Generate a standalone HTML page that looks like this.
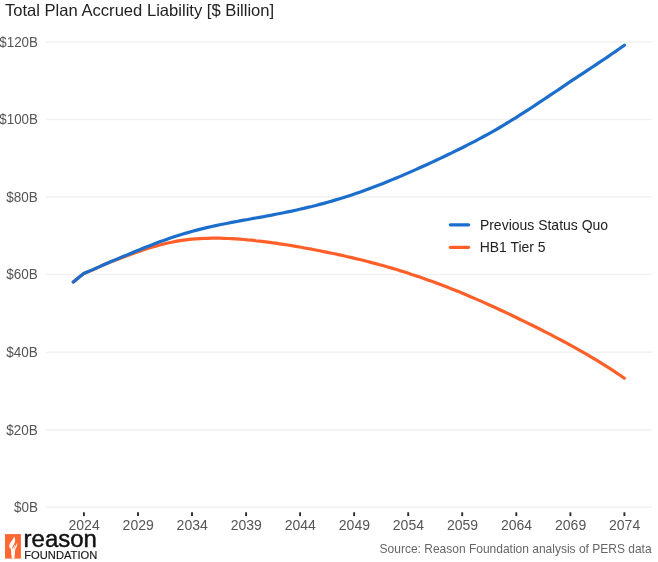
<!DOCTYPE html>
<html><head><meta charset="utf-8"><title>Total Plan Accrued Liability</title>
<style>
html,body{margin:0;padding:0;background:#fff;}
body{width:658px;height:562px;overflow:hidden;font-family:"Liberation Sans", sans-serif;}
svg{display:block;}
text{font-family:"Liberation Sans", sans-serif;}
</style></head><body>
<svg width="658" height="562" viewBox="0 0 658 562">
<rect width="658" height="562" fill="#fff"/>
<text x="4.9" y="15.5" font-size="16.5" fill="#222" textLength="269.3" lengthAdjust="spacingAndGlyphs">Total Plan Accrued Liability [$ Billion]</text>
<line x1="46" x2="652" y1="42.0" y2="42.0" stroke="#f1f1f1" stroke-width="1.5"/>
<text x="-0.7" y="46.8" font-size="14" fill="#555" textLength="38.6" lengthAdjust="spacingAndGlyphs">$120B</text>
<line x1="46" x2="652" y1="119.5" y2="119.5" stroke="#f1f1f1" stroke-width="1.5"/>
<text x="-0.7" y="124.3" font-size="14" fill="#555" textLength="38.6" lengthAdjust="spacingAndGlyphs">$100B</text>
<line x1="46" x2="652" y1="197.1" y2="197.1" stroke="#f1f1f1" stroke-width="1.5"/>
<text x="6.3" y="201.9" font-size="14" fill="#555" textLength="31.6" lengthAdjust="spacingAndGlyphs">$80B</text>
<line x1="46" x2="652" y1="274.6" y2="274.6" stroke="#f1f1f1" stroke-width="1.5"/>
<text x="6.3" y="279.4" font-size="14" fill="#555" textLength="31.6" lengthAdjust="spacingAndGlyphs">$60B</text>
<line x1="46" x2="652" y1="352.2" y2="352.2" stroke="#f1f1f1" stroke-width="1.5"/>
<text x="6.3" y="357.0" font-size="14" fill="#555" textLength="31.6" lengthAdjust="spacingAndGlyphs">$40B</text>
<line x1="46" x2="652" y1="429.8" y2="429.8" stroke="#f1f1f1" stroke-width="1.5"/>
<text x="6.3" y="434.6" font-size="14" fill="#555" textLength="31.6" lengthAdjust="spacingAndGlyphs">$20B</text>
<line x1="46" x2="652" y1="507.3" y2="507.3" stroke="#f1f1f1" stroke-width="1.5"/>
<text x="13.9" y="512.1" font-size="14" fill="#555" textLength="24.0" lengthAdjust="spacingAndGlyphs">$0B</text>
<line x1="83.9" x2="83.9" y1="512.3" y2="516.1" stroke="#2a2a2a" stroke-width="1.9"/>
<text x="68.5" y="529.7" font-size="14" fill="#555" textLength="31.2" lengthAdjust="spacingAndGlyphs">2024</text>
<line x1="138.0" x2="138.0" y1="512.3" y2="516.1" stroke="#2a2a2a" stroke-width="1.9"/>
<text x="122.6" y="529.7" font-size="14" fill="#555" textLength="31.2" lengthAdjust="spacingAndGlyphs">2029</text>
<line x1="192.0" x2="192.0" y1="512.3" y2="516.1" stroke="#2a2a2a" stroke-width="1.9"/>
<text x="176.6" y="529.7" font-size="14" fill="#555" textLength="31.2" lengthAdjust="spacingAndGlyphs">2034</text>
<line x1="246.1" x2="246.1" y1="512.3" y2="516.1" stroke="#2a2a2a" stroke-width="1.9"/>
<text x="230.7" y="529.7" font-size="14" fill="#555" textLength="31.2" lengthAdjust="spacingAndGlyphs">2039</text>
<line x1="300.1" x2="300.1" y1="512.3" y2="516.1" stroke="#2a2a2a" stroke-width="1.9"/>
<text x="284.7" y="529.7" font-size="14" fill="#555" textLength="31.2" lengthAdjust="spacingAndGlyphs">2044</text>
<line x1="354.1" x2="354.1" y1="512.3" y2="516.1" stroke="#2a2a2a" stroke-width="1.9"/>
<text x="338.8" y="529.7" font-size="14" fill="#555" textLength="31.2" lengthAdjust="spacingAndGlyphs">2049</text>
<line x1="408.2" x2="408.2" y1="512.3" y2="516.1" stroke="#2a2a2a" stroke-width="1.9"/>
<text x="392.8" y="529.7" font-size="14" fill="#555" textLength="31.2" lengthAdjust="spacingAndGlyphs">2054</text>
<line x1="462.2" x2="462.2" y1="512.3" y2="516.1" stroke="#2a2a2a" stroke-width="1.9"/>
<text x="446.9" y="529.7" font-size="14" fill="#555" textLength="31.2" lengthAdjust="spacingAndGlyphs">2059</text>
<line x1="516.3" x2="516.3" y1="512.3" y2="516.1" stroke="#2a2a2a" stroke-width="1.9"/>
<text x="500.9" y="529.7" font-size="14" fill="#555" textLength="31.2" lengthAdjust="spacingAndGlyphs">2064</text>
<line x1="570.4" x2="570.4" y1="512.3" y2="516.1" stroke="#2a2a2a" stroke-width="1.9"/>
<text x="555.0" y="529.7" font-size="14" fill="#555" textLength="31.2" lengthAdjust="spacingAndGlyphs">2069</text>
<line x1="624.4" x2="624.4" y1="512.3" y2="516.1" stroke="#2a2a2a" stroke-width="1.9"/>
<text x="609.0" y="529.7" font-size="14" fill="#555" textLength="31.2" lengthAdjust="spacingAndGlyphs">2074</text>
<path d="M73.3 282.0L83.7 273.5L87.7 272.1L91.7 270.4L95.7 268.5L99.7 266.6L103.7 264.8L107.7 263.1L111.7 261.5L115.7 260.0L119.7 258.5L123.7 257.0L127.7 255.5L131.7 254.1L135.7 252.6L139.7 251.2L143.7 249.8L147.7 248.5L151.7 247.3L155.7 246.1L159.7 245.0L163.7 244.0L167.7 243.0L171.7 242.2L175.7 241.4L179.7 240.7L183.7 240.2L187.7 239.7L191.7 239.2L195.7 238.9L199.7 238.6L203.7 238.4L207.7 238.3L211.7 238.2L215.7 238.2L219.7 238.2L223.7 238.3L227.7 238.5L231.7 238.7L235.7 238.9L239.7 239.2L243.7 239.5L247.7 239.9L251.7 240.2L255.7 240.7L259.7 241.1L263.7 241.6L267.7 242.1L271.7 242.7L275.7 243.2L279.7 243.8L283.7 244.4L287.7 245.0L291.7 245.7L295.7 246.4L299.7 247.0L303.7 247.8L307.7 248.5L311.7 249.2L315.7 250.0L319.7 250.8L323.7 251.6L327.7 252.4L331.7 253.2L335.7 254.0L339.7 254.9L343.7 255.8L347.7 256.7L351.7 257.6L355.7 258.6L359.7 259.5L363.7 260.5L367.7 261.5L371.7 262.6L375.7 263.6L379.7 264.7L383.7 265.8L387.7 267.0L391.7 268.1L395.7 269.3L399.7 270.6L403.7 271.8L407.7 273.1L411.7 274.4L415.7 275.7L419.7 277.1L423.7 278.5L427.7 279.9L431.7 281.3L435.7 282.8L439.7 284.3L443.7 285.8L447.7 287.3L451.7 288.9L455.7 290.5L459.7 292.1L463.7 293.8L467.7 295.5L471.7 297.2L475.7 298.9L479.7 300.6L483.7 302.4L487.7 304.2L491.7 306.0L495.7 307.8L499.7 309.7L503.7 311.5L507.7 313.4L511.7 315.3L515.7 317.2L519.7 319.2L523.7 321.1L527.7 323.1L531.7 325.0L535.7 327.0L539.7 329.0L543.7 331.1L547.7 333.1L551.7 335.2L555.7 337.3L559.7 339.4L563.7 341.5L567.7 343.7L571.7 345.9L575.7 348.1L579.7 350.3L583.7 352.6L587.7 354.9L591.7 357.3L595.7 359.7L599.7 362.1L603.7 364.6L607.7 367.1L611.7 369.7L615.7 372.3L619.7 375.0L623.7 377.8L624.3 378.2" fill="none" stroke="#ff6029" stroke-width="3.2" stroke-linecap="round" stroke-linejoin="round"/>
<path d="M73.3 282.0L83.7 273.5L87.7 271.8L91.7 270.1L95.7 268.4L99.7 266.6L103.7 264.8L107.7 263.0L111.7 261.3L115.7 259.6L119.7 257.9L123.7 256.3L127.7 254.6L131.7 253.0L135.7 251.3L139.7 249.7L143.7 248.0L147.7 246.4L151.7 244.9L155.7 243.3L159.7 241.8L163.7 240.4L167.7 238.9L171.7 237.6L175.7 236.3L179.7 235.0L183.7 233.8L187.7 232.6L191.7 231.5L195.7 230.4L199.7 229.4L203.7 228.4L207.7 227.4L211.7 226.5L215.7 225.6L219.7 224.8L223.7 224.0L227.7 223.2L231.7 222.4L235.7 221.7L239.7 220.9L243.7 220.2L247.7 219.5L251.7 218.7L255.7 218.0L259.7 217.3L263.7 216.6L267.7 215.8L271.7 215.1L275.7 214.3L279.7 213.5L283.7 212.7L287.7 211.9L291.7 211.1L295.7 210.2L299.7 209.3L303.7 208.4L307.7 207.4L311.7 206.5L315.7 205.5L319.7 204.4L323.7 203.4L327.7 202.2L331.7 201.1L335.7 199.9L339.7 198.7L343.7 197.5L347.7 196.2L351.7 194.9L355.7 193.6L359.7 192.2L363.7 190.8L367.7 189.3L371.7 187.8L375.7 186.3L379.7 184.8L383.7 183.2L387.7 181.6L391.7 179.9L395.7 178.3L399.7 176.6L403.7 174.9L407.7 173.1L411.7 171.4L415.7 169.6L419.7 167.8L423.7 166.0L427.7 164.2L431.7 162.4L435.7 160.5L439.7 158.6L443.7 156.7L447.7 154.8L451.7 152.9L455.7 150.9L459.7 149.0L463.7 147.0L467.7 144.9L471.7 142.9L475.7 140.8L479.7 138.7L483.7 136.5L487.7 134.3L491.7 132.1L495.7 129.8L499.7 127.5L503.7 125.1L507.7 122.7L511.7 120.2L515.7 117.8L519.7 115.2L523.7 112.7L527.7 110.1L531.7 107.5L535.7 104.8L539.7 102.2L543.7 99.5L547.7 96.8L551.7 94.1L555.7 91.5L559.7 88.8L563.7 86.1L567.7 83.4L571.7 80.7L575.7 78.1L579.7 75.4L583.7 72.8L587.7 70.1L591.7 67.5L595.7 64.8L599.7 62.1L603.7 59.5L607.7 56.8L611.7 54.0L615.7 51.3L619.7 48.5L623.7 45.7L624.4 45.2" fill="none" stroke="#1c6ecd" stroke-width="3.2" stroke-linecap="round" stroke-linejoin="round"/>
<line x1="450.4" x2="468.6" y1="224.8" y2="224.8" stroke="#1c6ecd" stroke-width="3.3" stroke-linecap="round"/>
<line x1="450.4" x2="468.6" y1="247.3" y2="247.3" stroke="#ff6029" stroke-width="3.3" stroke-linecap="round"/>
<text x="479.9" y="229.6" font-size="14.2" fill="#222" textLength="128.2" lengthAdjust="spacingAndGlyphs">Previous Status Quo</text>
<text x="479.7" y="252.2" font-size="14.2" fill="#222" textLength="65.8" lengthAdjust="spacingAndGlyphs">HB1 Tier 5</text>
<text x="379.6" y="552.9" font-size="13" fill="#666" textLength="272" lengthAdjust="spacingAndGlyphs">Source: Reason Foundation analysis of PERS data</text>
<g>
<rect x="5" y="534.1" width="15.9" height="24.5" fill="#ff6832"/>
<path d="M14.0 536.4 C14.9 538.0 15.5 539.8 15.1 541.6 C14.6 543.6 12.9 545.8 12.0 548.8 L10.7 548.8 C9.5 547.8 9.0 546.5 9.3 545.0 C9.9 542.2 13.3 540.0 14.0 536.4 Z" fill="#fff"/>
<path d="M12.7 548.8 L14.9 544.5 L15.3 545.1 L13.7 548.8 Z" fill="#fff"/>
<path d="M14.3 548.8 C14.9 546.5 16.4 545.0 17.2 542.8 C17.5 545.2 16.7 547.2 15.5 548.9 Z" fill="#fff"/>
<path d="M10.8 548.5 L15.3 548.5 L14.45 558.6 L11.75 558.6 Z" fill="#fff"/>
<text x="23.6" y="547.3" font-size="23" fill="#111" stroke="#111" stroke-width="0.45" textLength="73.2" lengthAdjust="spacingAndGlyphs">reason</text>
<text transform="translate(24.3,558.5) scale(0.5)" x="0" y="0" font-size="20.5" fill="#1a1a1a" stroke="#1a1a1a" stroke-width="0.3" textLength="146" lengthAdjust="spacingAndGlyphs">FOUNDATION</text>
</g>
</svg></body></html>
